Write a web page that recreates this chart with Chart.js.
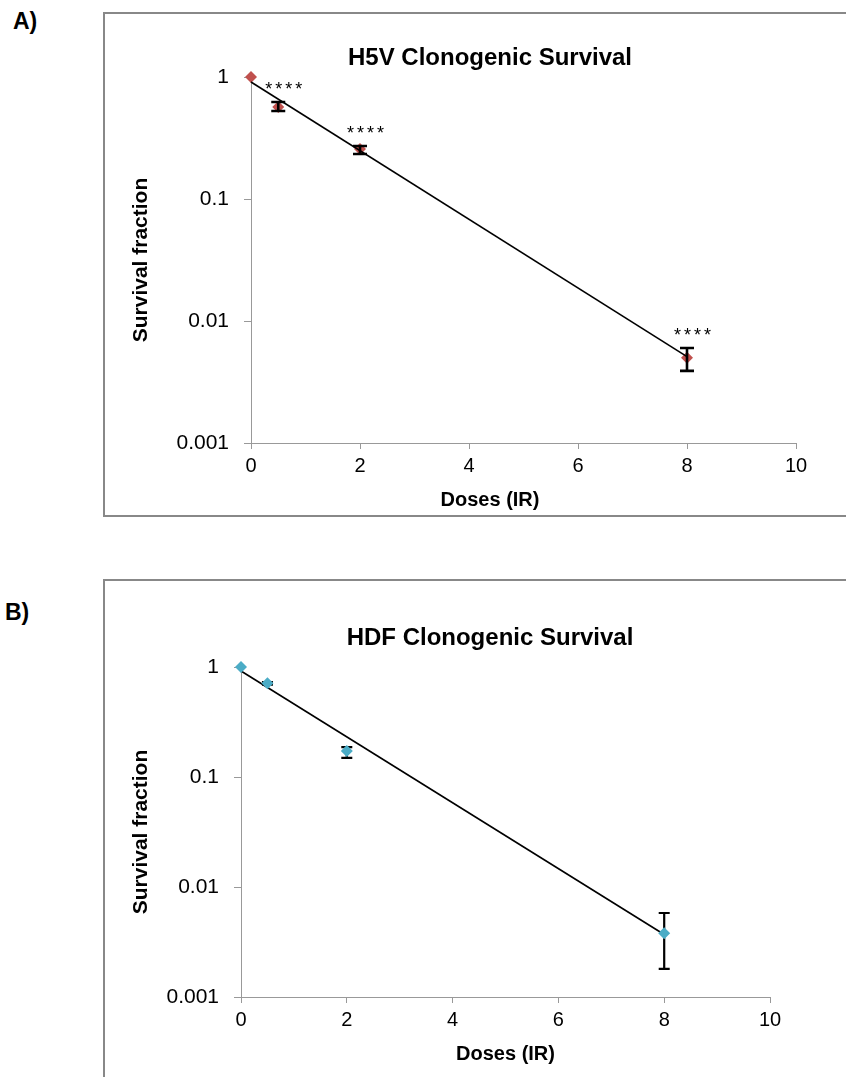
<!DOCTYPE html>
<html>
<head>
<meta charset="utf-8">
<script src="https://cdn.jsdelivr.net/npm/chart.js@4.4.0/dist/chart.umd.min.js"></script>
<style>
  html, body { margin: 0; padding: 0; background: #fff; width: 846px; height: 1077px; overflow: hidden; }
  .letter { position: absolute; font: bold 23px "Liberation Sans", Arial, sans-serif; line-height: 1; color: #000; }
  .box { position: absolute; box-sizing: border-box; border: 2px solid #888; }
  .box canvas { display: block; }
</style>
</head>
<body>
<div class="letter" style="left:13px; top:10px;">A)</div>
<div class="box" style="left:103px; top:12px; width:774px; height:505px;">
  <canvas id="chartA" width="770" height="501"></canvas>
</div>
<div class="letter" style="left:5px; top:601px;">B)</div>
<div class="box" style="left:103px; top:579px; width:774px; height:520px;">
  <canvas id="chartB" width="770" height="496"></canvas>
</div>
<script>
const FONT = '"Liberation Sans", Arial, sans-serif';

// doses (x) shared by both panels
const doses = [0, 0.5, 2, 8];
const xTicks = [0, 2, 4, 6, 8, 10];
const yTicks = [0.001, 0.01, 0.1, 1];
const trendDoses = [0, 8];

// A) H5V
const h5vSurvival = [1, 0.567, 0.257, 0.0050];
const h5vErrLow = [1, 0.526, 0.234, 0.0039];
const h5vErrHigh = [1, 0.624, 0.272, 0.0060];
const h5vStars = ["", "****", "****", "****"];
const h5vTrend = [0.91, 0.0051];

// B) HDF
const hdfSurvival = [1, 0.71, 0.172, 0.0038];
const hdfErrLow = [1, 0.69, 0.149, 0.0018];
const hdfErrHigh = [1, 0.73, 0.187, 0.0058];
const hdfStars = ["", "", "", ""];
const hdfTrend = [0.92, 0.0037];

// error bars + significance stars, read from dataset props
const errorBars = {
  id: "errorBars",
  beforeDatasetsDraw(chart, args, opts) {
    if (!opts.onTop) drawErrors(chart, opts);
  },
  afterDatasetsDraw(chart, args, opts) {
    if (opts.onTop) drawErrors(chart, opts);
    drawStars(chart);
  },
};

function drawErrors(chart, o) {
  const { ctx, scales: { x, y } } = chart;
  chart.data.datasets.forEach((ds) => {
    if (!ds.errLow) return;
    ctx.save();
    ctx.strokeStyle = "#000";
    ctx.lineWidth = o.width;
    ds.data.forEach((p, i) => {
      const lo = ds.errLow[i], hi = ds.errHigh[i];
      if (lo === hi) return;
      const px = x.getPixelForValue(p.x);
      const y1 = y.getPixelForValue(hi);
      const y2 = y.getPixelForValue(lo);
      ctx.beginPath();
      ctx.moveTo(px, y1); ctx.lineTo(px, y2);
      ctx.moveTo(px - o.cap, y1); ctx.lineTo(px + o.cap, y1);
      ctx.moveTo(px - o.cap, y2); ctx.lineTo(px + o.cap, y2);
      ctx.stroke();
    });
    ctx.restore();
  });
}

function drawStars(chart) {
  const { ctx, scales: { x, y } } = chart;
  chart.data.datasets.forEach((ds) => {
    if (!ds.stars) return;
    ctx.save();
    ctx.fillStyle = "#000";
    ctx.font = "18px " + FONT;
    ctx.letterSpacing = "3px";
    ctx.textAlign = "center";
    ctx.textBaseline = "alphabetic";
    ds.data.forEach((p, i) => {
      if (!ds.stars[i]) return;
      const px = x.getPixelForValue(p.x) + 7;
      const py = y.getPixelForValue(ds.errHigh[i]) - 7;
      ctx.fillText(ds.stars[i], px, py);
    });
    ctx.restore();
  });
}

function survivalChart(id, c) {
  const scatter = {
    label: c.title,
    data: doses.map((d, i) => ({ x: d, y: c.values[i] })),
    errLow: c.errLow,
    errHigh: c.errHigh,
    stars: c.stars,
    pointStyle: "rectRot",
    pointRadius: 6,
    pointBorderWidth: 0,
    backgroundColor: c.color,
    borderColor: c.color,
    clip: false,
    order: c.trendOnTop ? 1 : 0,
  };
  const trend = {
    label: "trend",
    data: trendDoses.map((d, i) => ({ x: d, y: c.trend[i] })),
    showLine: true,
    borderColor: "#000",
    borderWidth: 1.6,
    pointRadius: 0,
    clip: false,
    order: c.trendOnTop ? 0 : 1,
  };

  return new Chart(document.getElementById(id), {
    type: "scatter",
    data: { datasets: [scatter, trend] },
    options: {
      responsive: false,
      animation: false,
      devicePixelRatio: 1,
      layout: { padding: 0 },
      plugins: {
        legend: { display: false },
        tooltip: { enabled: false },
        title: {
          display: true,
          text: c.title,
          color: "#000",
          font: { family: FONT, size: 24, weight: "bold" },
          padding: { top: c.titleTop, bottom: c.titleBottom },
        },
        subtitle: {
          display: c.captionBelow,
          position: "bottom",
          text: "Doses (IR)",
          color: "#000",
          font: { family: FONT, size: 20, weight: "bold" },
          padding: { top: 0, bottom: 3 },
        },
        errorBars: { onTop: c.errOnTop, width: c.errWidth, cap: c.cap },
      },
      scales: {
        x: {
          type: "linear",
          min: 0,
          max: 10,
          afterBuildTicks: (s) => { s.ticks = xTicks.map((v) => ({ value: v })); },
          afterFit: (s) => { s.height = c.xHeight; },
          ticks: { color: "#000", font: { family: FONT, size: 20 }, padding: 5, maxRotation: 0 },
          grid: { drawOnChartArea: false, tickLength: 6, color: "#999" },
          border: { color: "#999" },
          title: {
            display: !c.captionBelow,
            text: "Doses (IR)",
            color: "#000",
            font: { family: FONT, size: 20, weight: "bold" },
            padding: { top: 0, bottom: 11 },
          },
        },
        y: {
          type: "logarithmic",
          min: 0.001,
          max: 1,
          afterBuildTicks: (s) => { s.ticks = yTicks.map((v) => ({ value: v })); },
          afterFit: (s) => { s.width = c.yWidth; },
          ticks: { color: "#000", font: { family: FONT, size: 21 }, padding: 15, callback: (v) => String(v) },
          grid: { drawOnChartArea: false, tickLength: 7, color: "#999" },
          border: { color: "#999" },
          title: {
            display: true,
            text: "Survival fraction",
            color: "#000",
            font: { family: FONT, size: 21, weight: "bold" },
            padding: { top: 24, bottom: 0 },
          },
        },
        // empty strip on the right so the title centres on the whole frame
        pad: {
          position: "right",
          ticks: { display: false },
          grid: { display: false },
          border: { display: false },
          afterFit: (s) => { s.width = c.rightPad; },
        },
      },
    },
    plugins: [errorBars],
  });
}

survivalChart("chartA", {
  title: "H5V Clonogenic Survival",
  values: h5vSurvival,
  errLow: h5vErrLow,
  errHigh: h5vErrHigh,
  stars: h5vStars,
  trend: h5vTrend,
  color: "#c0504d",
  trendOnTop: true,
  errOnTop: true,
  errWidth: 2.6,
  cap: 7,
  titleTop: 29.6,
  titleBottom: 4.6,
  captionBelow: true,
  xHeight: 45,
  yWidth: 146,
  rightPad: 79,
});

survivalChart("chartB", {
  title: "HDF Clonogenic Survival",
  values: hdfSurvival,
  errLow: hdfErrLow,
  errHigh: hdfErrHigh,
  stars: hdfStars,
  trend: hdfTrend,
  color: "#4bacc6",
  trendOnTop: false,
  errOnTop: false,
  errWidth: 2.2,
  cap: 5.5,
  titleTop: 42.6,
  titleBottom: 14.6,
  captionBelow: false,
  xHeight: 80,
  yWidth: 136,
  rightPad: 105,
});
</script>
</body>
</html>
